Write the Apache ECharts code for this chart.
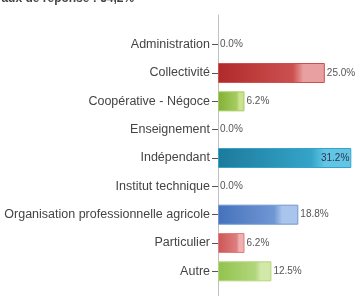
<!DOCTYPE html>
<html><head><meta charset="utf-8">
<script src="https://cdn.jsdelivr.net/npm/echarts@6/dist/echarts.min.js"></script>
<style>html,body{margin:0;padding:0;background:#fff}#c{width:362px;height:296px}</style>
</head><body><div id="c"></div>
<script>
const titleText = "Taux de réponse : 54,2%";
const categories = ["Administration","Collectivité","Coopérative - Négoce","Enseignement","Indépendant","Institut technique","Organisation professionnelle agricole","Particulier","Autre"];
const values = [0.0, 25.0, 6.2, 0.0, 31.2, 0.0, 18.8, 6.2, 12.5];
const barColors = [
  ["#3f7fc0","#7fa8da","#b5cdee"],
  ["#b02a2a","#cc5050","#e8a0a0"],
  ["#82b036","#a6cc60","#c8e290"],
  ["#d4a020","#e8c060","#f0d890"],
  ["#1d7a9c","#34a4c8","#60c6e4"],
  ["#888888","#aaaaaa","#cccccc"],
  ["#4572bb","#7097d4","#aac5ec"],
  ["#cc5555","#de7e7e","#f0b0b0"],
  ["#92c24e","#b2d67c","#d2e8a8"]
];
const chart = echarts.init(document.getElementById('c'), null, {renderer:'canvas'});
const FONT = "Liberation Sans";
chart.setOption({
  animation:false,
  title:{text:titleText,left:-10,top:-12,textStyle:{fontFamily:FONT,fontSize:12,fontWeight:'bold',color:'#444'}},
  grid:[{left:218,right:3,top:30.5,bottom:10.5,containLabel:false},
        {left:218,width:1,top:15,bottom:0,containLabel:false}],
  xAxis:[{type:'value',min:0,max:33,show:false,gridIndex:0},
         {type:'value',show:false,gridIndex:1}],
  yAxis:[{type:'category',inverse:true,data:categories,gridIndex:0,
    axisLine:{show:false},
    axisTick:{show:true,length:6,alignWithLabel:true,lineStyle:{color:'#555'}},
    axisLabel:{fontFamily:FONT,fontSize:12.5,color:'#444',margin:8}
  },{type:'value',gridIndex:1,min:0,max:1,axisLine:{show:true,lineStyle:{color:'#c0c0c0',width:1}},
    axisTick:{show:false},axisLabel:{show:false},splitLine:{show:false}}],
  series:[{
    type:'bar',barWidth:20,xAxisIndex:0,yAxisIndex:0,
    data:values.map((v,i)=>({value:v,
      itemStyle:{
        color:new echarts.graphic.LinearGradient(0,0,1,0,[
          {offset:0,color:barColors[i][0]},
          {offset:0.7,color:barColors[i][1]},
          {offset:0.8,color:barColors[i][2]},
          {offset:1,color:barColors[i][2]}]),
        borderColor:barColors[i][1],borderWidth:v>0?1:0},
      label: i===4 ? {position:'insideRight',distance:2,color:'#335'} : {}
    })),
    label:{show:true,position:'right',distance:2,fontFamily:FONT,fontSize:10,color:'#555',
      formatter:p=>p.value.toFixed(1)+'%'},
    markArea:{silent:true,data:[
      [{yAxis:'Administration',itemStyle:{color:'rgba(200,235,245,0.35)'}},{yAxis:'Administration'}],
      [{yAxis:'Enseignement',itemStyle:{color:'rgba(255,240,210,0.35)'}},{yAxis:'Enseignement'}]
    ]}
  }]
});
</script></body></html>
